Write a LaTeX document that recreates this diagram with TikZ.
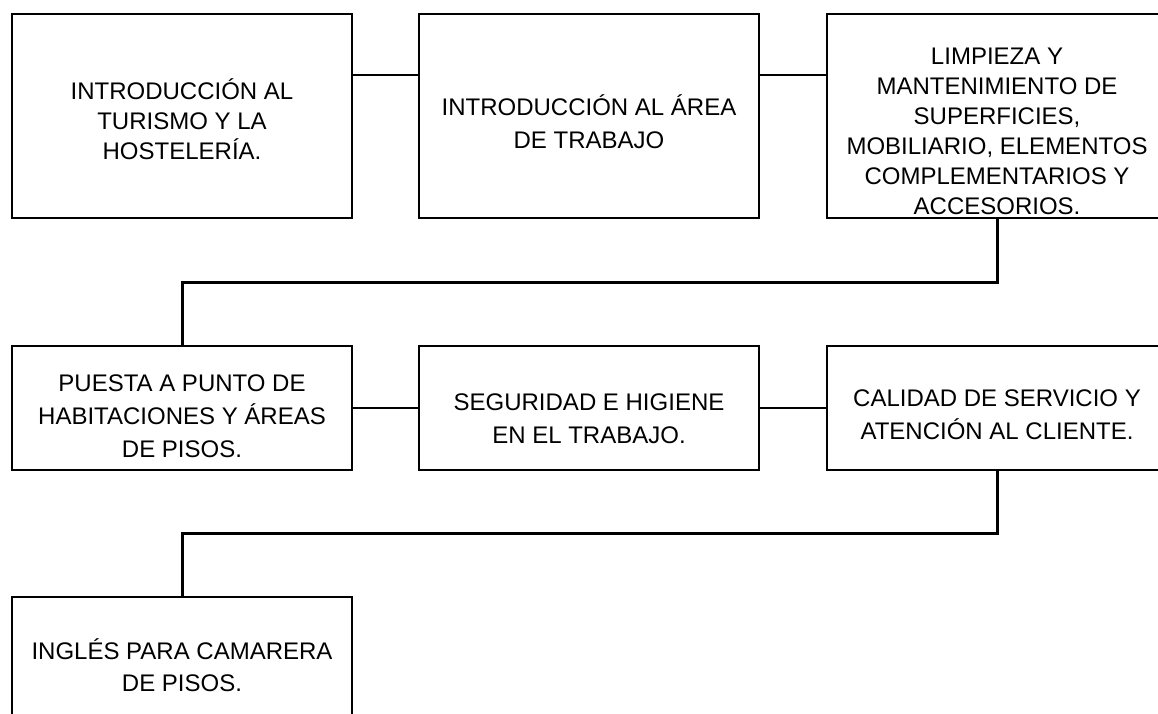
\documentclass[tikz,border=0pt]{standalone}
\usepackage{fontspec}
\setmainfont{Liberation Sans}
\begin{document}
\begin{tikzpicture}[x=1pt,y=-1pt,
  box/.style={draw=black, line width=2.6pt, rectangle, minimum width=340pt, inner sep=0pt, outer sep=0pt},
  rowA/.style={box, minimum height=204pt},
  rowB/.style={box, minimum height=124pt},
  lbl/.style={align=center, inner sep=0pt, text=black},
  bs30/.style={lbl, font=\fontsize{24}{30}\selectfont},
  bs33/.style={lbl, font=\fontsize{24}{33}\selectfont},
  bs32/.style={lbl, font=\fontsize{24}{32}\selectfont},
  link/.style={draw=black, line width=2pt},
  elbow/.style={draw=black, line width=3pt, line join=miter}]
\useasboundingbox (0,0) rectangle (1158,713);
\clip (0,0) rectangle (1158,713);
\fill[white] (0,0) rectangle (1158,713);
% boxes
\node[rowA] (b1) at (182,116) {};
\node[rowA] (b2) at (589,116) {};
\node[rowA] (b3) at (997,116) {};
\node[rowB] (b4) at (182,408) {};
\node[rowB] (b5) at (589,408) {};
\node[rowB] (b6) at (997,408) {};
\node[rowA] (b7) at (182,699) {};
% texts
\node[bs30] (t1) at (182,119.7) {INTRODUCCIÓN AL\\TURISMO Y LA\\HOSTELERÍA.};
\node[bs33] (t2) at (589,122) {INTRODUCCIÓN AL ÁREA\\DE TRABAJO};
\node[bs30] (t3) at (997,131.5) {LIMPIEZA Y\\MANTENIMIENTO DE\\SUPERFICIES,\\MOBILIARIO, ELEMENTOS\\COMPLEMENTARIOS Y\\ACCESORIOS.};
\node[bs33] (t4) at (182,416) {PUESTA A PUNTO DE\\HABITACIONES Y ÁREAS\\DE PISOS.};
\node[bs33] (t5) at (589,419) {SEGURIDAD E HIGIENE\\EN EL TRABAJO.};
\node[bs33] (t6) at (997,415) {CALIDAD DE SERVICIO Y\\ATENCIÓN AL CLIENTE.};
\node[bs32] (t7) at (182,664.7) {INGLÉS PARA CAMARERA\\DE PISOS.};
% junction coordinates
\coordinate (j1) at (0,282);
\coordinate (j2) at (0,533);
% connectors
\draw[link] ([yshift=41pt]b1.east) -- ([yshift=41pt]b2.west);
\draw[link] ([yshift=41pt]b2.east) -- ([yshift=41pt]b3.west);
\draw[link] (b4.east) -- (b5.west);
\draw[link] (b5.east) -- (b6.west);
\draw[elbow] (b3.south) |- (b4.north |- j1) -- (b4.north);
\draw[elbow] (b6.south) |- (b7.north |- j2) -- (b7.north);
\end{tikzpicture}
\end{document}
